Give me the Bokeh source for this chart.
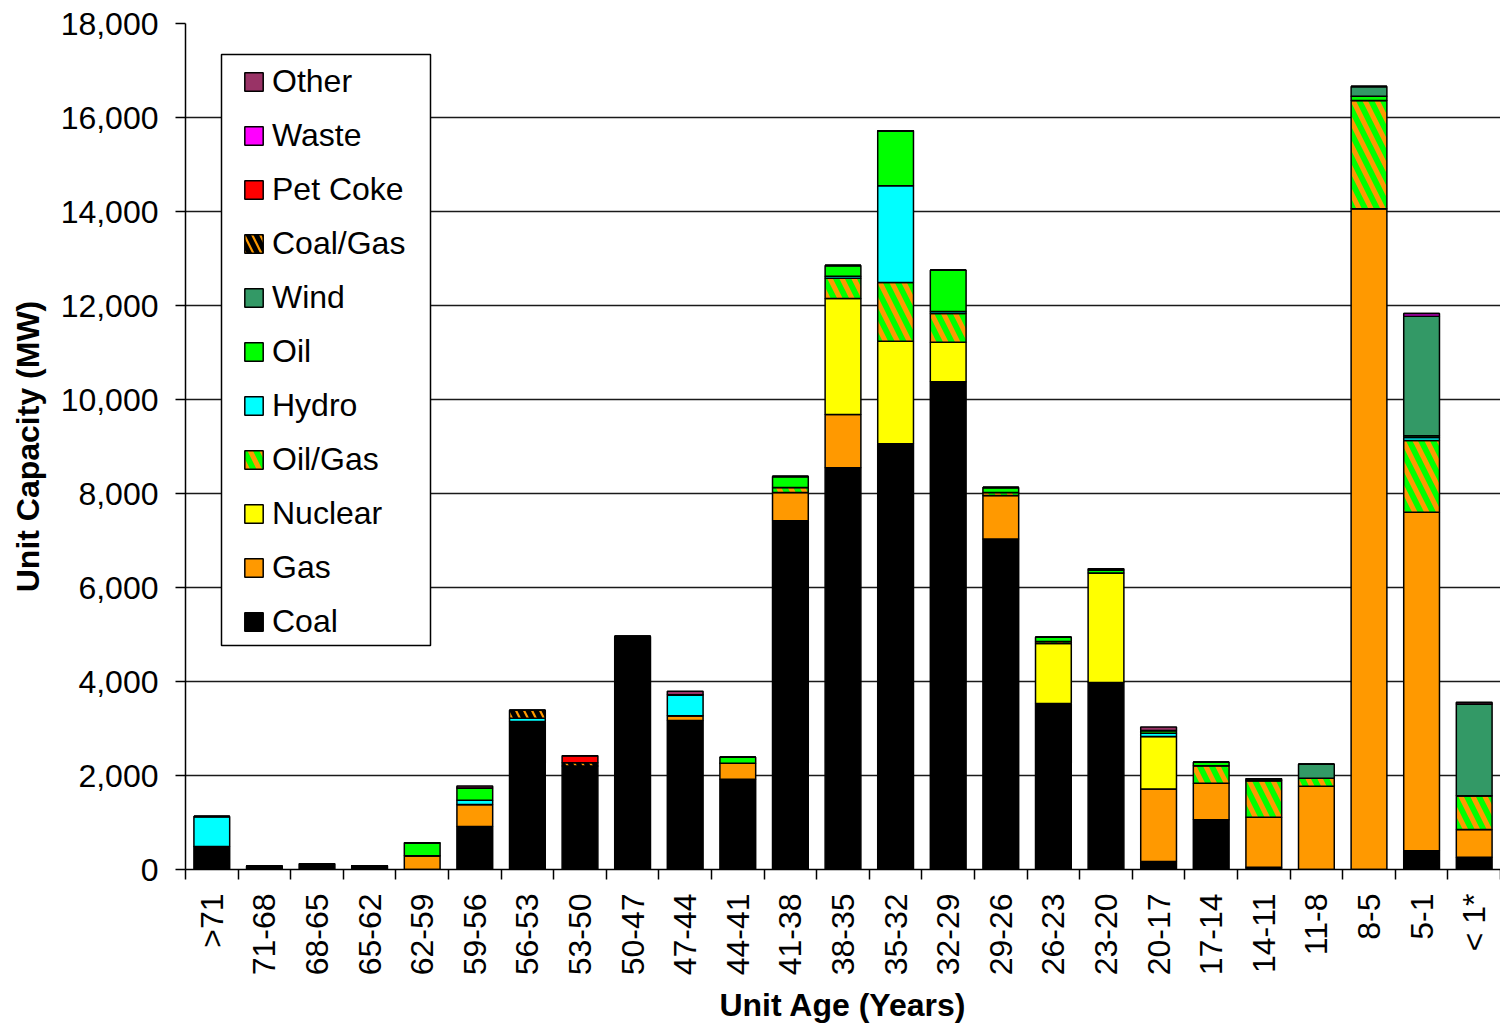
import math
from bokeh.plotting import figure
from bokeh.models import ColumnDataSource, Range1d, FixedTicker, Legend, LegendItem, NumeralTickFormatter, BoxAnnotation
from bokeh.transform import stack
from bokeh.embed import file_html
from bokeh.resources import INLINE

categories = [">71", "71-68", "68-65", "65-62", "62-59", "59-56", "56-53", "53-50", "50-47",
              "47-44", "44-41", "41-38", "38-35", "35-32", "32-29", "29-26", "26-23", "23-20",
              "20-17", "17-14", "14-11", "11-8", "8-5", "5-1", "< 1*"]

coal     = [490, 70, 120, 80, 0, 915, 3150, 2200, 4960, 3170, 1920, 7420, 8550, 9060, 10380, 7030, 3530, 3980, 170, 1060, 50, 0, 0, 400, 260]
gas      = [0, 0, 0, 0, 290, 470, 0, 0, 0, 100, 340, 600, 1130, 0, 0, 930, 0, 0, 1545, 775, 1060, 1770, 14060, 7200, 590]
nuclear  = [0, 0, 0, 0, 0, 0, 0, 0, 0, 0, 0, 0, 2470, 2180, 840, 0, 1280, 2330, 1115, 0, 0, 0, 0, 0, 0]
oil_gas  = [0, 0, 0, 0, 0, 0, 0, 0, 0, 0, 0, 110, 430, 1250, 610, 60, 40, 0, 0, 375, 780, 170, 2300, 1530, 720]
hydro    = [640, 0, 0, 0, 0, 90, 70, 0, 0, 450, 0, 0, 40, 2060, 40, 0, 0, 0, 70, 0, 0, 0, 0, 60, 0]
oil      = [0, 0, 0, 0, 280, 260, 0, 0, 0, 0, 130, 230, 230, 1170, 880, 110, 90, 60, 60, 70, 40, 0, 90, 40, 0]
wind     = [0, 0, 0, 0, 0, 0, 0, 0, 0, 0, 0, 0, 0, 0, 0, 0, 0, 0, 0, 0, 0, 300, 210, 2540, 1950]
coal_gas = [0, 0, 0, 0, 0, 0, 170, 70, 0, 0, 0, 0, 0, 0, 0, 0, 0, 0, 0, 0, 0, 0, 0, 0, 0]
pet_coke = [0, 0, 0, 0, 0, 0, 0, 150, 0, 0, 0, 0, 0, 0, 0, 0, 0, 0, 0, 0, 0, 0, 0, 0, 0]
waste    = [0, 0, 0, 0, 0, 0, 0, 0, 0, 0, 0, 0, 0, 0, 0, 0, 0, 0, 0, 0, 0, 0, 0, 60, 0]
other    = [0, 0, 0, 0, 0, 40, 0, 0, 0, 70, 0, 0, 0, 0, 0, 0, 0, 30, 70, 0, 0, 0, 0, 0, 40]

series_names = ["Coal", "Gas", "Nuclear", "Oil/Gas", "Hydro", "Oil", "Wind", "Coal/Gas", "Pet Coke", "Waste", "Other"]
series_values = [coal, gas, nuclear, oil_gas, hydro, oil, wind, coal_gas, pet_coke, waste, other]
series_colors = ["#000000", "#FF9900", "#FFFF00", "#00FF00", "#00FFFF", "#00FF00", "#339966", "#FF9900", "#FF0000", "#FF00FF", "#993366"]

xs = list(range(1, len(categories) + 1))
data = {"x": xs}
for n, v in zip(series_names, series_values):
    data[n] = v
src = ColumnDataSource(data)

FONT = "Liberation Sans"

p = figure(width=1500, height=1027, output_backend="svg", toolbar_location=None,
           x_range=Range1d(0.5, len(categories) + 0.5), y_range=Range1d(0, 18000),
           min_border_left=185, min_border_top=23, min_border_bottom=158, min_border_right=0)
p.outline_line_color = None
p.background_fill_color = "white"

renderers = {}
prev = []
for n, c in zip(series_names, series_colors):
    kw = dict(fill_color=c, line_color="black", line_width=1.5)
    if n == "Oil/Gas":
        kw.update(hatch_pattern="\\", hatch_color="#FF9900", hatch_scale=24, hatch_weight=5)
    if n == "Coal/Gas":
        kw.update(hatch_pattern="\\", hatch_color="#000000", hatch_scale=16, hatch_weight=5)
    bottom = stack(*prev) if prev else 0
    r = p.vbar(x="x", width=0.68, bottom=bottom, top=stack(*(prev + [n])), source=src, **kw)
    renderers[n] = r
    prev.append(n)

# y axis
yticks = list(range(0, 18001, 2000))
p.yaxis.ticker = FixedTicker(ticks=yticks)
p.yaxis.formatter = NumeralTickFormatter(format="0,0")
p.yaxis.major_label_text_font = FONT
p.yaxis.major_label_text_font_size = "32px"
p.yaxis.major_label_text_color = "black"
p.yaxis.major_tick_out = 10
p.yaxis.major_tick_in = 0
p.yaxis.major_tick_line_width = 1.5
p.yaxis.minor_tick_line_color = None
p.yaxis.axis_line_width = 1.5
p.yaxis.major_label_standoff = 17
p.yaxis.axis_label = "Unit Capacity (MW)"
p.yaxis.axis_label_text_font = FONT
p.yaxis.axis_label_text_font_style = "bold"
p.yaxis.axis_label_text_font_size = "32px"
p.yaxis.axis_label_text_color = "black"
p.yaxis.axis_label_standoff = 12

# x axis
p.xaxis.ticker = FixedTicker(ticks=xs, minor_ticks=[i + 0.5 for i in range(0, len(categories) + 1)])
p.xaxis.major_label_overrides = {x: c for x, c in zip(xs, categories)}
p.xaxis.major_label_orientation = math.pi / 2
p.xaxis.major_label_text_font = FONT
p.xaxis.major_label_text_font_size = "32px"
p.xaxis.major_label_text_color = "black"
p.xaxis.major_tick_line_color = None
p.xaxis.major_tick_out = 10
p.xaxis.major_tick_in = 0
p.xaxis.minor_tick_out = 10
p.xaxis.minor_tick_in = 0
p.xaxis.minor_tick_line_color = "black"
p.xaxis.minor_tick_line_width = 1.5
p.xaxis.axis_line_width = 1.5
p.xaxis.major_label_standoff = 14
p.xaxis.axis_label = "Unit Age (Years)"
p.xaxis.axis_label_text_font = FONT
p.xaxis.axis_label_text_font_style = "bold"
p.xaxis.axis_label_text_font_size = "32px"
p.xaxis.axis_label_text_color = "black"
p.xaxis.axis_label_standoff = 9

p.xgrid.grid_line_color = None
p.ygrid.ticker = FixedTicker(ticks=yticks)
p.ygrid.grid_line_color = "#1a1a1a"
p.ygrid.grid_line_width = 1.5

box = BoxAnnotation(left=221, right=430, top=54, bottom=645,
                    left_units="canvas", right_units="canvas", top_units="canvas", bottom_units="canvas",
                    fill_color="white", fill_alpha=1.0, line_color="black", line_alpha=1.0, line_width=1.5)
p.add_layout(box)

items = [LegendItem(label=n, renderers=[renderers[n]]) for n in reversed(series_names)]
legend = Legend(items=items, location=(47, 219), orientation="vertical",
                border_line_color="black", border_line_alpha=0.0,
                background_fill_alpha=0.0,
                label_text_font=FONT, label_text_font_size="32px", label_text_color="black",
                glyph_width=23, glyph_height=23, label_standoff=7, label_height=36,
                padding=10, spacing=17, margin=0)
p.add_layout(legend)

open("out.html", "w").write(file_html(p, INLINE))
